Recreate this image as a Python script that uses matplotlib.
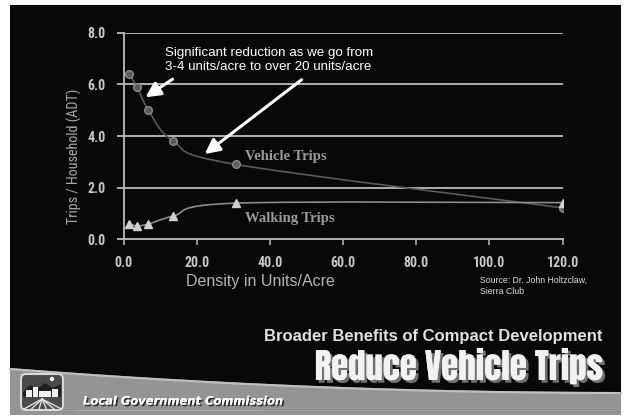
# reduce_vehicle_trips.py

import numpy as np
import matplotlib
matplotlib.use("Agg")
import matplotlib.pyplot as plt
import matplotlib.patheffects as pe
from matplotlib.path import Path
from matplotlib.patches import PathPatch, Rectangle, FancyBboxPatch, Polygon, Circle
from matplotlib import font_manager

# Data
density = [1.5, 3.7, 6.8, 13.6, 30.7, 120.0]
vehicle_trips = [6.4, 5.9, 5.0, 3.8, 2.9, 1.22]
walking_trips = [0.6, 0.52, 0.59, 0.9, 1.4, 1.42]
x_ticks = [0.0, 20.0, 40.0, 60.0, 80.0, 100.0, 120.0]
y_ticks = [0.0, 2.0, 4.0, 6.0, 8.0]

W, H = 626, 417
GRID = "#b0b0b0"
LABEL = "#c8c8c8"

installed = {f.name for f in font_manager.fontManager.ttflist}


def pick(candidates, default="DejaVu Sans"):
    # first installed family from the list
    for name in candidates:
        if name in installed:
            return name
    return default


NARROW = pick(["Arial Narrow", "Liberation Sans Narrow", "Roboto Condensed", "Archivo Narrow",
               "PT Sans Narrow", "Open Sans Condensed", "Encode Sans Condensed", "Barlow Condensed"])
HEAVY = pick(["Haettenschweiler", "Anton", "Oswald", "Francois One", "Fjalla One",
              "Roboto Condensed", "Barlow Condensed"], NARROW)


def smooth_path(xs, ys):
    """
    Builds an Excel-like smoothed line (Catmull-Rom as cubic Bezier) through the points.
    """
    pts = np.column_stack([xs, ys]).astype(float)
    n = len(pts)
    verts = [pts[0]]
    codes = [Path.MOVETO]
    for i in range(n - 1):
        p0 = pts[max(i - 1, 0)]
        p1 = pts[i]
        p2 = pts[i + 1]
        p3 = pts[min(i + 2, n - 1)]
        verts += [p1 + (p2 - p0) / 6, p2 - (p3 - p1) / 6, p2]
        codes += [Path.CURVE4] * 3
    return Path(verts, codes)


fig = plt.figure(figsize=(W / 100, H / 100), dpi=100, facecolor="white")

# Slide background in pixel coordinates
bg = fig.add_axes([0, 0, 1, 1], zorder=0)
bg.set_xlim(0, W)
bg.set_ylim(H, 0)
bg.axis("off")
bg.add_patch(Rectangle((10, 5), 611, 410, facecolor="#080808", edgecolor="none"))

# Grey band along the bottom
bx = np.linspace(10, 621, 60)
t = (bx - 10) / 611
by = 368 + 24 * (1 - (1 - t) ** 2)
band = np.vstack([np.column_stack([bx, by]), [[621, 415], [10, 415]]])
bg.add_patch(Polygon(band, closed=True, facecolor="#949494", edgecolor="none"))
bg.plot(bx, by + 1, color="#c0c0c0", lw=1.5)
bg.plot([75, 262], [410, 410], color="#a8a8a8", lw=0.8)

# Little logo box
bg.add_patch(FancyBboxPatch((21, 374), 42, 36, boxstyle="round,pad=0,rounding_size=5",
                            facecolor="#4a4a4a", edgecolor="#d8d8d8", lw=1.5))
bg.add_patch(Polygon([[23, 392], [30, 385], [37, 389], [45, 383], [53, 388], [61, 384], [61, 397], [23, 397]],
                     facecolor="#202020", edgecolor="none"))
for rx, ry, rw, rh in [(26, 390, 6, 7), (33, 387, 5, 10), (39, 391, 12, 6), (52, 389, 6, 8)]:
    bg.add_patch(Rectangle((rx, ry), rw, rh, facecolor="#f0f0f0", edgecolor="none"))
bg.add_patch(Circle((52, 379), 2.2, facecolor="#f0f0f0", edgecolor="none"))
for k in range(6):
    bg.plot([42, 24 + k * 7.5], [399, 409], color="#e0e0e0", lw=1)

shadow = [pe.withSimplePatchShadow(offset=(1.2, -1.2), shadow_rgbFace="#000000", alpha=0.7), pe.Normal()]
bg.text(83, 401, "Local Government Commission", fontsize=8.3, fontweight="bold", fontstyle="italic",
        color="white", va="center", ha="left", family="DejaVu Sans", path_effects=shadow)

bg.text(603, 337, "Broader Benefits of Compact Development", fontsize=12, fontweight="bold",
        color="#e0e0e0", va="center", ha="right", family="Liberation Sans")
bg.text(603, 366, "Reduce Vehicle Trips", fontsize=25, fontweight="bold", color="#f2f2f2",
        va="center", ha="right", family=[HEAVY, "DejaVu Sans"],
        path_effects=[pe.withSimplePatchShadow(offset=(2, -2), shadow_rgbFace="#707070", alpha=1.0), pe.Normal()])

bg.text(480, 286, "Source: Dr. John Holtzclaw,\nSierra Club", fontsize=6.3, color="#dcdcdc",
        va="center", ha="left", family="Liberation Sans", linespacing=1.4)

# The chart itself
ax = fig.add_axes([123.5 / W, 1 - 239.3 / H, (562.5 - 123.5) / W, (239.3 - 32.7) / H], zorder=1)
ax.set_facecolor("none")
ax.set_xlim(0, 120)
ax.set_ylim(0, 8)

for name in ["top", "right"]:
    ax.spines[name].set_visible(False)
for name in ["left", "bottom"]:
    ax.spines[name].set_color(GRID)
    ax.spines[name].set_linewidth(1.4)

ax.set_xticks(x_ticks)
ax.set_yticks(y_ticks)
ax.set_xticklabels([f"{v:.1f}" for v in x_ticks])
ax.set_yticklabels([f"{v:.1f}" for v in y_ticks])
ax.tick_params(axis="x", direction="out", length=4, width=1.2, color=GRID, pad=8)
ax.tick_params(axis="y", direction="out", length=5, width=1.4, color=GRID, pad=8)
for lab in ax.get_xticklabels() + ax.get_yticklabels():
    lab.set_family([NARROW, "DejaVu Sans"])
    lab.set_fontweight("bold")
    lab.set_fontsize(10)
    lab.set_color(LABEL)
ax.yaxis.grid(True, color=GRID, lw=1.4)
ax.set_axisbelow(True)

ax.set_ylabel("Trips / Household (ADT)", fontsize=10.2, color="#a8a8a8", family=[NARROW, "Liberation Sans"])
ax.yaxis.set_label_coords(-0.094, 0.40)
ax.set_xlabel("Density in Units/Acre", fontsize=11.5, color="#b4b4b4", family="Liberation Sans")
ax.xaxis.set_label_coords(0.311, -0.17)

ax.add_patch(PathPatch(smooth_path(density, vehicle_trips), facecolor="none", edgecolor="#5a5a5a", lw=1.2))
ax.plot(density, vehicle_trips, "o", ms=5.5, mfc="#5c5c5c", mec="#8a8a8a", mew=1.0, ls="none")
ax.add_patch(PathPatch(smooth_path(density, walking_trips), facecolor="none", edgecolor="#8c8c8c", lw=1.2))
ax.plot(density, walking_trips, "^", ms=6, mfc="#d0d0d0", mec="#d0d0d0", ls="none")

ax.text(33.2, 3.2, "Vehicle Trips", fontsize=10.5, fontweight="bold", color="#9a9a9a",
        family="Liberation Serif", va="center", ha="left")
ax.text(33.2, 0.79, "Walking Trips", fontsize=10.5, fontweight="bold", color="#9a9a9a",
        family="Liberation Serif", va="center", ha="left")

ax.text(11.3, 6.95, "Significant reduction as we go from\n3-4 units/acre to over 20 units/acre",
        fontsize=9.6, color="white", family="Liberation Sans", va="center", ha="left", linespacing=1.25)
arrow = dict(arrowstyle="-|>,head_length=0.9,head_width=0.45", color="white", lw=2.2, shrinkA=0, shrinkB=0)
ax.annotate("", xy=(6.0, 5.5), xytext=(13.4, 6.2), arrowprops=arrow)
ax.annotate("", xy=(22.2, 3.3), xytext=(48.7, 6.18), arrowprops=arrow)

fig.savefig("out.png", dpi=100, facecolor="white")
